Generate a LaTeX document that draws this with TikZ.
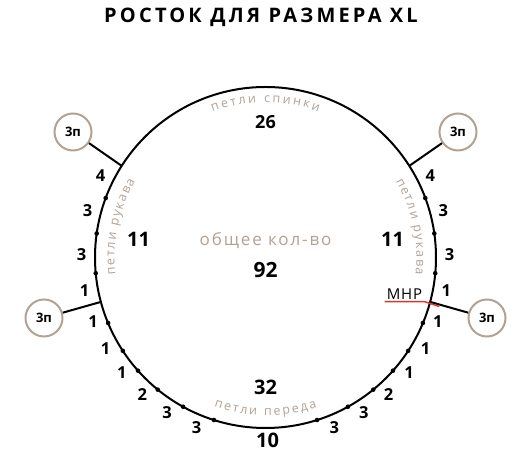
\documentclass[tikz,border=0pt]{standalone}
\usepackage{fontspec}
\setmainfont{Open Sans}
\usepackage{tikz}
\usetikzlibrary{positioning,decorations.text}
\usepackage{xcolor}
\definecolor{beige}{RGB}{176,162,150}
\definecolor{mnrred}{RGB}{222,52,42}

\begin{document}
\begin{tikzpicture}[x=1pt,y=1pt,
    num/.style={font=\fontsize{16.5}{16}\selectfont\bfseries},
    bignum/.style={font=\fontsize{20}{20}\selectfont\bfseries},
    loopnode/.style={circle, draw=beige, line width=2pt, minimum size=37pt, inner sep=0pt, font=\fontsize{13}{13}\selectfont\bfseries},
    seam/.style={line width=2pt},
    curved/.style={decorate, decoration={text along path, text align=fit to path, text color=beige}}]
\useasboundingbox (0,0) rectangle (531,470);

\node[font=\fontsize{20}{20}\selectfont\bfseries\addfontfeature{LetterSpace=16}] (title) at (261,453) {РОСТОК ДЛЯ РАЗМЕРА XL};

\coordinate (c) at (265.5,212.5);
\draw[seam] (c) circle[radius=170.5];

\begin{scope}[shift={(c)}]
  % dots between the groups
  \foreach \a in {159.6,171.9,185.3,202.6,213.2,221.6,230.8,241.1,252.4}{
    \fill (\a:170.5) circle[radius=2.3];
    \fill ({180-\a}:170.5) circle[radius=2.3];
  }
  % counts outside
  \foreach \a/\n [count=\i] in {153.6/4,165.2/3,179/3,190.5/1,200.5/1,209.6/1,218.7/1,228/2,237.7/3,248/3}{
    \node[num] (left\i) at (\a:184) {\n};
    \node[num] (right\i) at ({180-\a}:184) {\n};
  }
  \node[bignum] (frontmid) at (2,-183) {10};

  % raglan points
  \coordinate (jul) at (147.5:170.5);
  \coordinate (jur) at (32.5:170.5);
  \coordinate (jll) at (195.1:170.5);
  \coordinate (jlr) at (-15.1:170.5);

  \node[loopnode] (ul) at (-192.5,125.5) {3п};
  \node[loopnode] (ur) at (192.5,125.5) {3п};
  \node[loopnode] (ll) at (-221.5,-60.5) {3п};
  \node[loopnode] (lr) at (221.5,-60.5) {3п};
  \draw[seam] (jul) -- (ul);
  \draw[seam] (jur) -- (ur);
  \draw[seam] (jll) -- (ll);
  \draw[seam] (jlr) -- (lr);

  % inside
  \node[font=\fontsize{18}{18}\selectfont\bfseries] (back) at (0,135.5) {26};
  \node[bignum] (sleeveleft) at (-127,18) {11};
  \node[bignum] (sleeveright) at (127,18) {11};
  \node[font=\fontsize{17}{17}\selectfont\addfontfeature{LetterSpace=11}, text=beige] (totallabel) at (0,16.5) {общее кол-во};
  \node[font=\fontsize{21}{21}\selectfont\bfseries] (total) at (0,-13) {92};
  \node[bignum] (front) at (0,-130) {32};

  \node[font=\fontsize{15}{15}\selectfont\addfontfeature{LetterSpace=5}, inner sep=2pt] (mnr) at (139,-36.5) {МНР};
  \draw[mnrred, line width=1.5pt] (mnr.south west) -- (mnr.south east) -- ++(15,-5);

  % curved labels
  \path[curved, decoration={text={|\fontsize{12.5}{12}\selectfont|петли спинки}}] (110:155) arc[start angle=110, end angle=70, radius=155];
  \path[curved, decoration={text={|\fontsize{12.5}{12}\selectfont|петли рукава}}] (186.6:151) arc[start angle=186.6, end angle=149.6, radius=151];
  \path[curved, decoration={text={|\fontsize{12.5}{12}\selectfont|петли рукава}}] (30.4:151) arc[start angle=30.4, end angle=-6.6, radius=151];
  \path[curved, decoration={text={|\fontsize{12.5}{12}\selectfont|петли переда}}] (251:158) arc[start angle=251, end angle=289, radius=158];
\end{scope}
\end{tikzpicture}
\end{document}
